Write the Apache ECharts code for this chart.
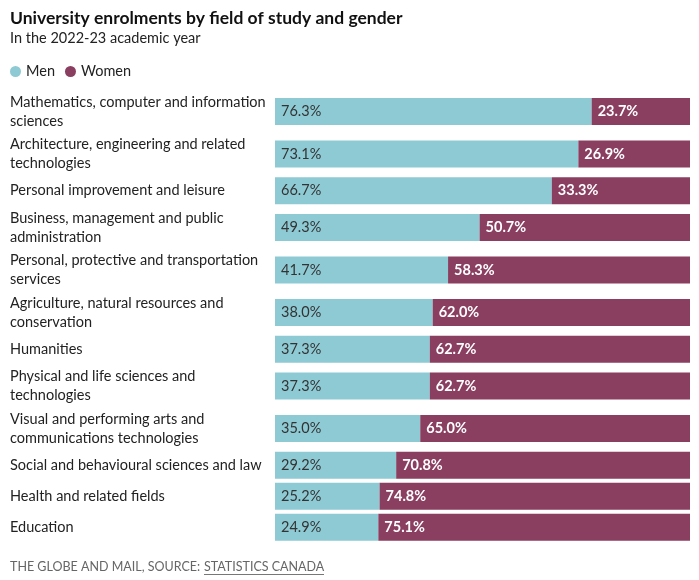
<!DOCTYPE html>
<html>
<head>
<meta charset="utf-8">
<script src="https://cdn.jsdelivr.net/npm/echarts@6/dist/echarts.min.js"></script>
<style>
  html, body { margin: 0; padding: 0; background: #fff; }
  #chart { width: 699px; height: 580px; }
</style>
</head>
<body>
<div id="chart"></div>
<script>
const categories = [
  "Mathematics, computer and information\nsciences",
  "Architecture, engineering and related\ntechnologies",
  "Personal improvement and leisure",
  "Business, management and public\nadministration",
  "Personal, protective and transportation\nservices",
  "Agriculture, natural resources and\nconservation",
  "Humanities",
  "Physical and life sciences and\ntechnologies",
  "Visual and performing arts and\ncommunications technologies",
  "Social and behavioural sciences and law",
  "Health and related fields",
  "Education"
];
const men = [76.3, 73.1, 66.7, 49.3, 41.7, 38.0, 37.3, 37.3, 35.0, 29.2, 25.2, 24.9];
const women = [23.7, 26.9, 33.3, 50.7, 58.3, 62.0, 62.7, 62.7, 65.0, 70.8, 74.8, 75.1];

const FONT = 'Lato, "Noto Sans", sans-serif';
const MEN_COLOR = '#8ecad4';
const WOMEN_COLOR = '#8a3e60';

const chart = echarts.init(document.getElementById('chart'));

const grids = [], xAxes = [], yAxes = [], series = [];
let cursor = 92.25;
const barH = 27;
categories.forEach((cat, i) => {
  const lines = cat.split('\n').length;
  const slotH = lines > 1 ? 38.5 : barH;
  const center = cursor + slotH / 2;
  cursor += slotH + 4;
  grids.push({ left: 275, right: 9, top: center - barH / 2, height: barH, containLabel: false });
  xAxes.push({ gridIndex: i, type: 'value', min: 0, max: 100, show: false });
  yAxes.push({
    gridIndex: i, type: 'category', data: [cat],
    axisLine: { show: false }, axisTick: { show: false }, splitLine: { show: false },
    axisLabel: {
      align: 'left', margin: 265, color: '#222', fontFamily: FONT, fontSize: 14.5, lineHeight: 19
    }
  });
  series.push({
    name: 'Men', type: 'bar', stack: 's' + i, xAxisIndex: i, yAxisIndex: i,
    data: [men[i]], barWidth: barH, itemStyle: { color: MEN_COLOR },
    label: { show: true, position: 'insideLeft', distance: 6, formatter: p => p.value.toFixed(1) + '%',
      color: '#333', fontFamily: FONT, fontSize: 14.5 }
  });
  series.push({
    name: 'Women', type: 'bar', stack: 's' + i, xAxisIndex: i, yAxisIndex: i,
    data: [women[i]], barWidth: barH, itemStyle: { color: WOMEN_COLOR },
    label: { show: true, position: 'insideLeft', distance: 6, formatter: p => p.value.toFixed(1) + '%',
      color: '#fff', fontWeight: 'bold', fontFamily: FONT, fontSize: 14.5 }
  });
});

chart.setOption({
  animation: false,
  backgroundColor: '#fff',
  title: {
    text: 'University enrolments by field of study and gender',
    subtext: 'In the 2022-23 academic year',
    left: 5, top: 4, itemGap: 4,
    textStyle: { fontFamily: FONT, fontSize: 17.5, fontWeight: 'bold', color: '#111' },
    subtextStyle: { fontFamily: FONT, fontSize: 14.5, color: '#222' }
  },
  legend: {
    data: ['Men', 'Women'], left: 5, top: 59, icon: 'circle', itemWidth: 11, itemHeight: 11, itemGap: 10,
    textStyle: { fontFamily: FONT, fontSize: 14.5, color: '#222' }, selectedMode: false
  },
  grid: grids,
  xAxis: xAxes,
  yAxis: yAxes,
  series: series,
  graphic: [
    { type: 'text', left: 10, top: 560, style: { text: 'THE GLOBE AND MAIL, SOURCE:', fontFamily: FONT, fontSize: 12.5, fill: '#666' } },
    { type: 'text', left: 204, top: 560, style: { text: 'STATISTICS CANADA', fontFamily: FONT, fontSize: 12.5, fill: '#666' } },
    { type: 'line', shape: { x1: 204, y1: 574.5, x2: 324, y2: 574.5 }, style: { stroke: '#777', lineWidth: 1 } }
  ]
});
</script>
</body>
</html>
